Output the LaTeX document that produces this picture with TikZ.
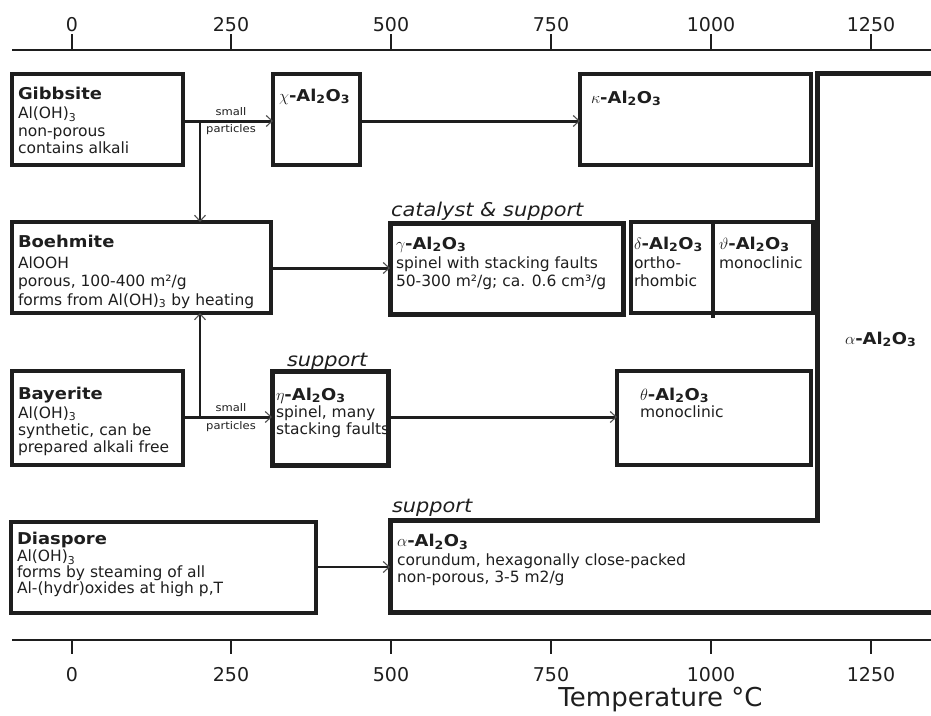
\RequirePackage{fix-cm}
\documentclass[tikz,border=0pt]{standalone}
\usepackage{fontspec}
\setmainfont{DejaVu Sans}
\newfontfamily\wide{DejaVu Sans}[FakeStretch=1.1]
\usetikzlibrary{arrows.meta,calc}
\definecolor{ink}{HTML}{1E1E1E}
\definecolor{tipc}{HTML}{505050}
\tikzset{
  box/.style={draw=ink, line width=3.2pt, inner sep=0pt, outer sep=0pt, anchor=north west, rectangle},
  thickbox/.style={box, line width=5pt},
  txt/.style={anchor=base west, inner sep=0pt, outer sep=0pt, text=ink, font=\fontsize{15.5}{18}\selectfont},
  ttl/.style={txt, font=\wide\bfseries\fontsize{16.3}{19}\selectfont},
  lbl/.style={txt, font=\wide\itshape\fontsize{19}{22}\selectfont},
  tinyl/.style={anchor=base, inner sep=0pt, text=ink, font=\wide\fontsize{10.5}{12}\selectfont},
  axl/.style={anchor=base, inner sep=0pt, text=ink, font=\fontsize{19}{22}\selectfont},
  conn/.style={draw=ink, line width=3pt, -{Straight Barb[length=6pt,width=11pt,line width=1.1pt,color=tipc]}},
  connthin/.style={draw=ink, line width=2pt, -{Straight Barb[length=6pt,width=11pt,line width=1.1pt,color=tipc]}},
}
\newcommand{\alox}{Al\textsubscript{2}O\textsubscript{3}}
\begin{document}
\begin{tikzpicture}[x=1pt,y=-1pt]
\useasboundingbox (0,0) rectangle (931,715);

% axes
\draw[ink, line width=2.5pt] (12,50) -- (931,50);
\draw[ink, line width=2.5pt] (12,640) -- (931,640);
\foreach \x/\l in {72/0,231/250,391/500,551/750,711/1000,871/1250}{
  \draw[ink, line width=1.5pt] (\x,34) -- (\x,50);
  \node[axl] (tl\l) at (\x,31) {\l};
  \draw[ink, line width=1.5pt] (\x,640) -- (\x,654);
  \node[axl] (bl\l) at (\x,681) {\l};
}
\node[anchor=base, inner sep=0pt, text=ink, font=\fontsize{26}{30}\selectfont] (tlab) at (660.5,706.5) {Temperature °C};

% big alpha region
\node[inner sep=0pt, outer sep=0pt, anchor=north west, minimum width=541pt, minimum height=92pt] (alb) at (390,520) {};
\draw[ink, line width=5pt, line join=miter] (931,73) -- (817,73) -- (817,520) -- (alb.north west) -- (alb.south west) -- (alb.south east);

% boxes
\node[box, minimum width=171pt, minimum height=91pt] (gib) at (12,74) {};
\node[box, minimum width=87pt, minimum height=91pt] (chi) at (273,74) {};
\node[box, minimum width=231pt, minimum height=91pt] (kap) at (580,74) {};
\node[box, minimum width=259pt, minimum height=91pt] (boe) at (12,222) {};
\node[thickbox, minimum width=233pt, minimum height=91pt] (gam) at (390,223) {};
\node[box, minimum width=82pt, minimum height=91pt] (del) at (631,222) {};
\node[box, minimum width=100pt, minimum height=91pt] (vth) at (713,222) {};
\coordinate (divend) at (713,318);
\draw[ink, line width=3.2pt] (del.north east) -- (divend);
\node[box, minimum width=171pt, minimum height=94pt] (bay) at (12,371) {};
\node[thickbox, minimum width=116pt, minimum height=94pt] (eta) at (272,371) {};
\node[box, minimum width=194pt, minimum height=94pt] (the) at (617,371) {};
\node[box, minimum width=305pt, minimum height=91pt] (dia) at (11,522) {};

% connectors
\coordinate (r1) at (0,121);
\coordinate (r2) at (0,268);
\coordinate (r3) at (0,417);
\coordinate (r4) at (0,567);
\coordinate (j1) at (200,121);
\coordinate (j3) at (200,417);
\draw[conn] (r1 -| gib.east) -- (r1 -| chi.west);
\draw[conn] (r1 -| chi.east) -- (r1 -| kap.west);
\draw[connthin] (j1) -- (boe.north -| j1);
\draw[conn] (r2 -| boe.east) -- (r2 -| gam.west);
\draw[conn] (r3 -| bay.east) -- (r3 -| eta.west);
\draw[conn] (r3 -| eta.east) -- (r3 -| the.west);
\draw[connthin] (j3) -- (boe.south -| j3);
\draw[connthin] (r4 -| dia.east) -- (r4 -| alb.west);

\node[tinyl] (s1) at (231,115) {small};
\node[tinyl] (p1) at (231,132) {particles};
\node[tinyl] (s2) at (231,411) {small};
\node[tinyl] (p2) at (231,429) {particles};

% texts
\node[ttl] (gibt) at (18,99.5) {Gibbsite};
\node[txt] (gib1) at (18,118.5) {Al(OH)\textsubscript{3}};
\node[txt] (gib2) at (18,136) {non-porous};
\node[txt] (gib3) at (18,153) {contains alkali};

\node[ttl] (chit) at (279,101) {$\chi$-\alox};
\node[ttl] (kapt) at (591,103) {$\kappa$-\alox};

\node[ttl] (boet) at (18,247.5) {Boehmite};
\node[txt] (boe1) at (18,268) {AlOOH};
\node[txt] (boe2) at (18,286.5) {porous, 100-400 m²/g};
\node[txt] (boe3) at (18,305) {forms from Al(OH)\textsubscript{3} by heating};

\node[lbl] (lcat) at (391,216.5) {catalyst \& support};
\node[ttl] (gamt) at (396,249) {$\gamma$-\alox};
\node[txt] (gam1) at (396,268) {spinel with stacking faults};
\node[txt] (gam2) at (396,286) {50-300 m²/g; ca. 0.6 cm³/g};

\node[ttl] (delt) at (634,249) {$\delta$-\alox};
\node[txt] (del1) at (634,268) {ortho-};
\node[txt] (del2) at (634,286) {rhombic};

\node[ttl] (vtht) at (719,249) {$\vartheta$-\alox};
\node[txt] (vth1) at (719,268) {monoclinic};

\node[ttl] (alr) at (845,344) {$\alpha$-\alox};

\node[ttl] (bayt) at (18,399.5) {Bayerite};
\node[txt] (bay1) at (18,418) {Al(OH)\textsubscript{3}};
\node[txt] (bay2) at (18,435.5) {synthetic, can be};
\node[txt] (bay3) at (18,452.5) {prepared alkali free};

\node[lbl] (lsup1) at (287,366) {support};
\node[ttl] (etat) at (276,400) {$\eta$-\alox};
\node[txt] (eta1) at (276,417) {spinel, many};
\node[txt] (eta2) at (276,434) {stacking faults};

\node[ttl] (thet) at (640,400) {$\theta$-\alox};
\node[txt] (the1) at (640,417) {monoclinic};

\node[ttl] (diat) at (17,544) {Diaspore};
\node[txt] (dia1) at (17,561.5) {Al(OH)\textsubscript{3}};
\node[txt] (dia2) at (17,577.5) {forms by steaming of all};
\node[txt] (dia3) at (17,593.5) {Al-(hydr)oxides at high p,T};

\node[lbl] (lsup2) at (392,512) {support};
\node[ttl] (albt) at (397,546.5) {$\alpha$-\alox};
\node[txt] (alb1) at (397,565.5) {corundum, hexagonally close-packed};
\node[txt] (alb2) at (397,582.5) {non-porous, 3-5 m2/g};
\end{tikzpicture}
\end{document}
